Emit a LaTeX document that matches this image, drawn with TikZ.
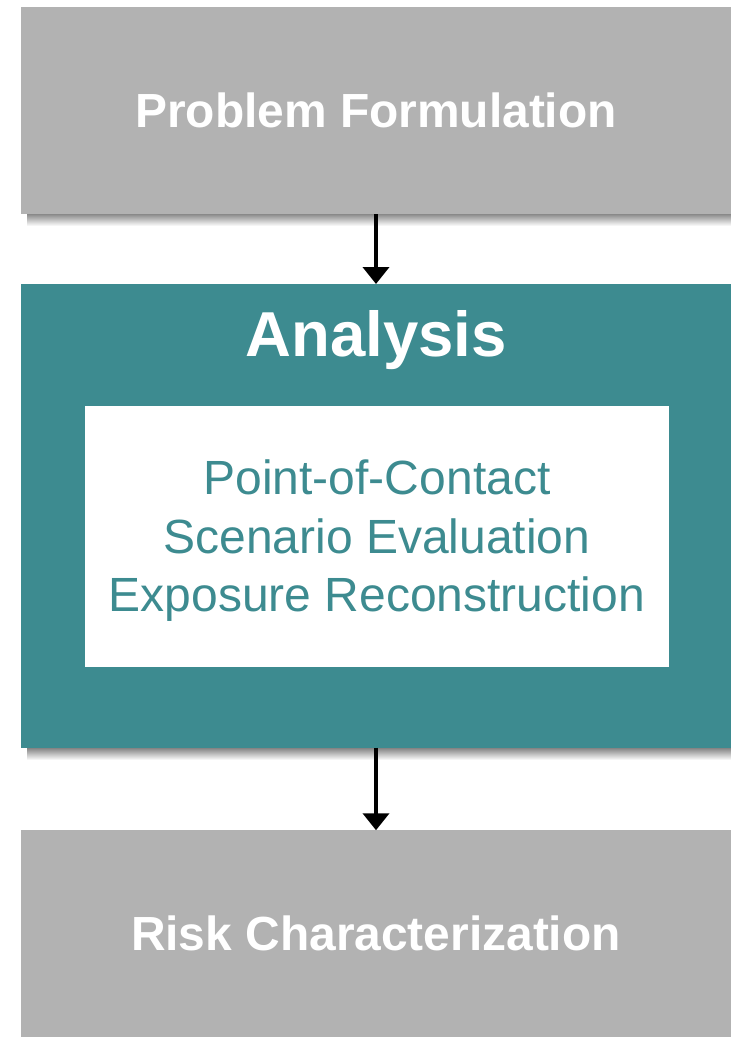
\documentclass[tikz,border=0pt]{standalone}
\usepackage{fontspec}
\setmainfont{Liberation Sans}
\usetikzlibrary{arrows.meta}
\definecolor{boxgray}{HTML}{B2B2B2}
\definecolor{tealbox}{HTML}{3D8B90}
\tikzset{
  graybox/.style={fill=boxgray, draw=none, inner sep=0pt, outer sep=0pt, minimum width=710pt, text=white, font=\fontsize{47.9}{56}\selectfont\bfseries},
  tealframe/.style={fill=tealbox, draw=none, inner sep=0pt, outer sep=0pt, minimum width=710pt},
  innerbox/.style={fill=white, draw=none, inner sep=0pt, outer sep=0pt},
  titletext/.style={text=white, inner sep=0pt, font=\fontsize{63.5}{70}\selectfont\bfseries},
  bodytext/.style={text=tealbox, inner sep=0pt, align=center, font=\fontsize{48}{58.5}\selectfont},
  flowarrow/.style={draw=black, line width=4pt, -{Triangle[width=26pt,length=17pt]}},
  boxshadow/.style={top color=black!50, bottom color=white, draw=none}
}
\begin{document}
\begin{tikzpicture}[x=1pt,y=-1pt]
\useasboundingbox (0,0) rectangle (731,1037);
% shadows
\shade[boxshadow] (27,213) rectangle (731,226);
\shade[boxshadow] (27,747.5) rectangle (731,760);
\shade[boxshadow] (27,1035.5) rectangle (731,1037);
% boxes
\node[graybox, minimum height=207pt] (pf) at (376,110.5) {Problem Formulation};
\node[tealframe, minimum height=463.5pt] (an) at (376,515.75) {};
\node[titletext] (antitle) at (376,340) {Analysis};
\node[innerbox, minimum width=584pt, minimum height=261pt] (inner) at (377,536.5) {};
\node[bodytext] (innertext) at (377,541) {Point-of-Contact\\Scenario Evaluation\\Exposure Reconstruction};
\node[graybox, minimum height=206.5pt] (rc) at (376,933.5) {Risk Characterization};
% arrows
\draw[flowarrow] (pf.south) -- (an.north);
\draw[flowarrow] (an.south) -- (rc.north);
\end{tikzpicture}
\end{document}
